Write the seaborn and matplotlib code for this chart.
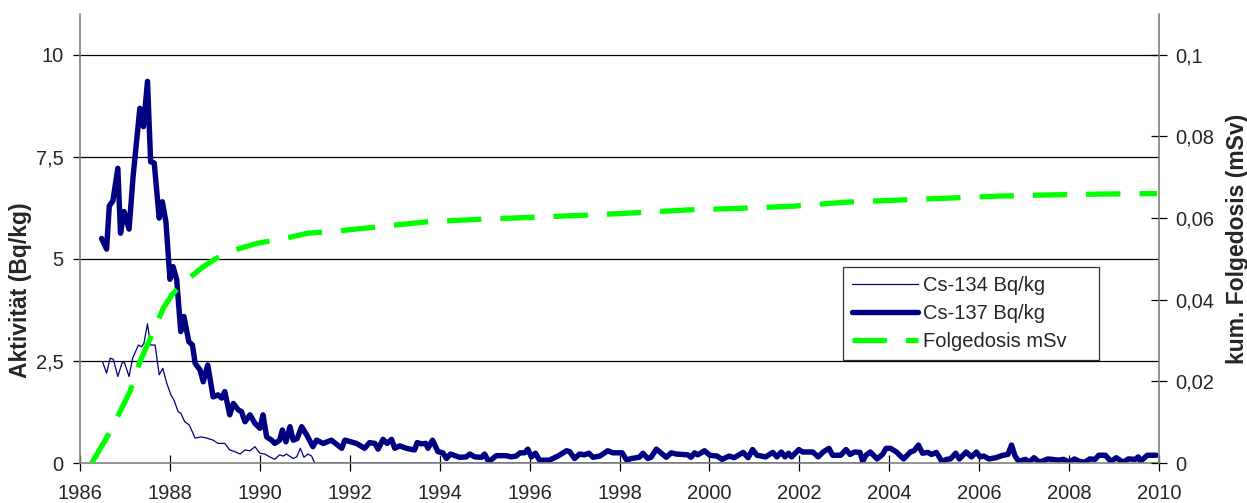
import matplotlib
matplotlib.use("Agg")
import matplotlib.pyplot as plt
import seaborn as sns
from matplotlib.ticker import FixedLocator, FuncFormatter

# ---------------- Daten ----------------
cs137_year = [
    1986.48, 1986.59, 1986.65, 1986.73, 1986.84, 1986.90, 1986.98, 1987.09, 1987.18, 1987.33,
    1987.41, 1987.50, 1987.57, 1987.65, 1987.76, 1987.83, 1987.91, 1988.00, 1988.07, 1988.15,
    1988.24, 1988.31, 1988.42, 1988.50, 1988.56, 1988.67, 1988.74, 1988.84, 1988.96, 1989.07,
    1989.15, 1989.22, 1989.33, 1989.41, 1989.52, 1989.59, 1989.67, 1989.78, 1989.89, 1990.00,
    1990.07, 1990.15, 1990.26, 1990.33, 1990.44, 1990.50, 1990.58, 1990.67, 1990.74, 1990.83,
    1990.93, 1991.04, 1991.18, 1991.26, 1991.41, 1991.59, 1991.82, 1991.89, 1992.15, 1992.33,
    1992.44, 1992.56, 1992.63, 1992.74, 1992.83, 1992.93, 1993.00, 1993.11, 1993.26, 1993.44,
    1993.50, 1993.59, 1993.69, 1993.74, 1993.84, 1993.96, 1994.07, 1994.15, 1994.24, 1994.44,
    1994.59, 1994.67, 1994.78, 1994.93, 1995.00, 1995.09, 1995.26, 1995.48, 1995.59, 1995.70,
    1995.79, 1995.89, 1995.96, 1996.04, 1996.13, 1996.22, 1996.44, 1996.63, 1996.82, 1996.89,
    1997.00, 1997.11, 1997.22, 1997.32, 1997.41, 1997.56, 1997.74, 1997.85, 1998.06, 1998.16,
    1998.26, 1998.44, 1998.52, 1998.63, 1998.70, 1998.82, 1998.93, 1999.04, 1999.15, 1999.26,
    1999.52, 1999.59, 1999.67, 1999.74, 1999.89, 2000.01, 2000.17, 2000.28, 2000.44, 2000.55,
    2000.75, 2000.86, 2000.96, 2001.06, 2001.25, 2001.41, 2001.50, 2001.60, 2001.68, 2001.76,
    2001.83, 2001.99, 2002.07, 2002.30, 2002.42, 2002.53, 2002.66, 2002.74, 2002.92, 2003.04,
    2003.13, 2003.23, 2003.35, 2003.41, 2003.48, 2003.58, 2003.73, 2003.85, 2003.93, 2004.03,
    2004.16, 2004.32, 2004.47, 2004.55, 2004.65, 2004.74, 2004.86, 2004.94, 2005.05, 2005.17,
    2005.28, 2005.36, 2005.48, 2005.56, 2005.71, 2005.83, 2005.94, 2006.02, 2006.10, 2006.22,
    2006.37, 2006.53, 2006.64, 2006.72, 2006.80, 2006.88, 2007.03, 2007.11, 2007.22, 2007.34,
    2007.53, 2007.77, 2007.88, 2008.00, 2008.12, 2008.23, 2008.35, 2008.46, 2008.58, 2008.66,
    2008.81, 2008.93, 2009.05, 2009.20, 2009.32, 2009.47, 2009.54, 2009.59, 2009.74, 2009.94,
]
cs137_bq = [
    5.50, 5.24, 6.30, 6.42, 7.22, 5.63, 6.16, 5.73, 7.02, 8.69,
    8.24, 9.35, 7.38, 7.35, 6.00, 6.40, 5.91, 4.50, 4.81, 4.49,
    3.22, 3.59, 2.97, 2.89, 2.44, 2.28, 1.99, 2.40, 1.62, 1.67,
    1.59, 1.75, 1.18, 1.46, 1.30, 1.26, 1.01, 1.18, 0.97, 0.85,
    1.18, 0.64, 0.56, 0.48, 0.56, 0.81, 0.52, 0.89, 0.56, 0.60,
    0.89, 0.69, 0.40, 0.56, 0.48, 0.56, 0.36, 0.56, 0.48, 0.36,
    0.50, 0.48, 0.34, 0.58, 0.48, 0.58, 0.36, 0.42, 0.36, 0.32,
    0.50, 0.47, 0.48, 0.36, 0.56, 0.28, 0.25, 0.11, 0.22, 0.14,
    0.15, 0.22, 0.15, 0.14, 0.22, 0.03, 0.18, 0.18, 0.15, 0.17,
    0.25, 0.25, 0.34, 0.15, 0.24, 0.07, 0.07, 0.17, 0.30, 0.28,
    0.11, 0.22, 0.20, 0.24, 0.14, 0.17, 0.30, 0.25, 0.25, 0.07,
    0.11, 0.14, 0.24, 0.11, 0.14, 0.34, 0.24, 0.14, 0.25, 0.22,
    0.20, 0.14, 0.25, 0.20, 0.30, 0.19, 0.17, 0.09, 0.17, 0.13,
    0.26, 0.13, 0.33, 0.19, 0.15, 0.26, 0.15, 0.27, 0.15, 0.24,
    0.15, 0.33, 0.27, 0.27, 0.15, 0.27, 0.36, 0.19, 0.19, 0.33,
    0.21, 0.27, 0.26, 0.04, 0.19, 0.27, 0.10, 0.21, 0.36, 0.36,
    0.27, 0.10, 0.27, 0.30, 0.44, 0.24, 0.26, 0.21, 0.26, 0.04,
    0.09, 0.10, 0.24, 0.10, 0.27, 0.15, 0.27, 0.15, 0.17, 0.10,
    0.13, 0.19, 0.21, 0.44, 0.17, 0.04, 0.09, 0.02, 0.13, 0.02,
    0.10, 0.07, 0.09, 0.02, 0.10, 0.04, 0.02, 0.10, 0.09, 0.19,
    0.19, 0.04, 0.13, 0.02, 0.10, 0.09, 0.15, 0.04, 0.19, 0.19,
]

cs134_year = [
    1986.50, 1986.59, 1986.67, 1986.74, 1986.84, 1986.93, 1986.98, 1987.09, 1987.17, 1987.30,
    1987.37, 1987.42, 1987.50, 1987.57, 1987.67, 1987.76, 1987.84, 1987.93, 1988.02, 1988.09,
    1988.18, 1988.24, 1988.33, 1988.43, 1988.56, 1988.70, 1988.82, 1988.96, 1989.07, 1989.22,
    1989.33, 1989.44, 1989.56, 1989.67, 1989.78, 1989.89, 1990.00, 1990.11, 1990.22, 1990.33,
    1990.44, 1990.52, 1990.59, 1990.74, 1990.82, 1990.90, 1990.98, 1991.07, 1991.15, 1991.22,
    2003.93,
]
cs134_bq = [
    2.48, 2.20, 2.57, 2.54, 2.12, 2.44, 2.48, 2.12, 2.57, 2.89,
    2.85, 2.93, 3.41, 2.89, 2.89, 2.16, 2.32, 1.95, 1.67, 1.54,
    1.26, 1.22, 1.01, 0.93, 0.61, 0.64, 0.61, 0.56, 0.48, 0.48,
    0.32, 0.28, 0.22, 0.32, 0.30, 0.40, 0.24, 0.22, 0.15, 0.09,
    0.20, 0.17, 0.22, 0.11, 0.15, 0.36, 0.14, 0.22, 0.17, 0.00,
    0.00,
]

dose_year = [
    1986.26, 1986.65, 1986.89, 1987.11, 1987.33, 1987.63, 1987.85, 1988.04, 1988.30, 1988.74,
    1989.04, 1989.44, 1989.93, 1990.59, 1991.07, 1991.78, 1992.67, 1993.74, 1994.89, 1996.07,
    1997.22, 1998.37, 1999.52, 2000.70, 2001.85, 2003.04, 2004.18, 2005.33, 2006.48, 2007.67,
    2008.82, 2009.96,
]
dose_msv = [
    0.0000, 0.0073, 0.0126, 0.0175, 0.0248, 0.0322, 0.0379, 0.0412, 0.0442, 0.0481,
    0.0502, 0.0522, 0.0538, 0.0551, 0.0563, 0.0569, 0.0579, 0.0591, 0.0597, 0.0602,
    0.0607, 0.0613, 0.0620, 0.0624, 0.0629, 0.0639, 0.0644, 0.0649, 0.0654, 0.0657,
    0.0659, 0.0660,
]

left_ticks = [0, 2.5, 5, 7.5, 10]
right_ticks = [0, 0.02, 0.04, 0.06, 0.08, 0.1]
year_ticks = list(range(1986, 2011, 2))
series_labels = ["Cs-134 Bq/kg", "Cs-137 Bq/kg", "Folgedosis mSv"]

NAVY = "#000080"
LIME = "#00FF00"
SPINE = "#808080"

sns.set_style("white")
plt.rcParams["font.family"] = ["Liberation Sans", "DejaVu Sans"]
FS = 14.5      # Ticks / Legende
FS_LAB = 16.5  # Achsentitel


def komma(v, pos):
    return f"{v:g}".replace(".", ",")


fig = plt.figure(figsize=(12.47, 5.03), dpi=100)
ax = fig.add_axes([0.0642, 0.0795, 0.8652, 0.8927])
ax2 = ax.twinx()

sns.lineplot(x=cs134_year, y=cs134_bq, ax=ax, color=NAVY, linewidth=0.9,
             estimator=None, sort=False, legend=False)
sns.lineplot(x=cs137_year, y=cs137_bq, ax=ax, color=NAVY, linewidth=3.9,
             estimator=None, sort=False, legend=False)
sns.lineplot(x=dose_year, y=dose_msv, ax=ax2, color=LIME, linewidth=3.8,
             estimator=None, sort=False, legend=False)
ax2.lines[-1].set_dashes((6.5, 3.6))
for ln in ax.lines + ax2.lines:
    ln.set_solid_joinstyle("round")

ax.set_xlim(1986, 2010)
ax.set_ylim(0, 11)
ax2.set_ylim(0, 0.11)

for y in left_ticks[1:]:
    ax.axhline(y, color="black", linewidth=0.9, zorder=0)

ax.yaxis.set_major_locator(FixedLocator(left_ticks))
ax.yaxis.set_major_formatter(FuncFormatter(komma))
ax2.yaxis.set_major_locator(FixedLocator(right_ticks))
ax2.yaxis.set_major_formatter(FuncFormatter(komma))
ax.xaxis.set_major_locator(FixedLocator(year_ticks))

ax.tick_params(axis="y", direction="out", length=5, width=0.9, color="black",
               labelsize=FS, pad=7, left=True)
ax.tick_params(axis="x", direction="inout", length=12, width=0.9, color="black",
               labelsize=FS, pad=9, bottom=True)
ax2.tick_params(axis="y", direction="inout", length=12, width=0.9, color="black",
                labelsize=FS, pad=6, right=True)

for a in (ax, ax2):
    a.spines["top"].set_visible(False)
    for s in ("left", "right", "bottom"):
        a.spines[s].set_color(SPINE)
        a.spines[s].set_linewidth(1.2)
ax.spines["right"].set_visible(False)
ax2.spines["left"].set_visible(False)
ax2.spines["bottom"].set_visible(False)

ax.set_xlabel("")
ax.set_ylabel("Aktivität (Bq/kg)", fontsize=FS_LAB, fontweight="bold")
ax.yaxis.set_label_coords(-0.045, 0.385)
ax2.set_ylabel("kum. Folgedosis (mSv)", fontsize=FS_LAB, fontweight="bold", labelpad=8)

handles = ax.lines[:2] + [ax2.lines[-1]]
leg = ax2.legend(handles, series_labels, loc="upper left",
                 bbox_to_anchor=(0.707, 0.234, 0.237, 0.2025), mode="expand",
                 fontsize=FS, frameon=True, fancybox=False, edgecolor="black",
                 handlelength=3.3, handletextpad=0.25, labelspacing=0.45,
                 borderpad=0.45, borderaxespad=0)
leg.get_frame().set_linewidth(0.9)

fig.savefig("out.png", dpi=100)
